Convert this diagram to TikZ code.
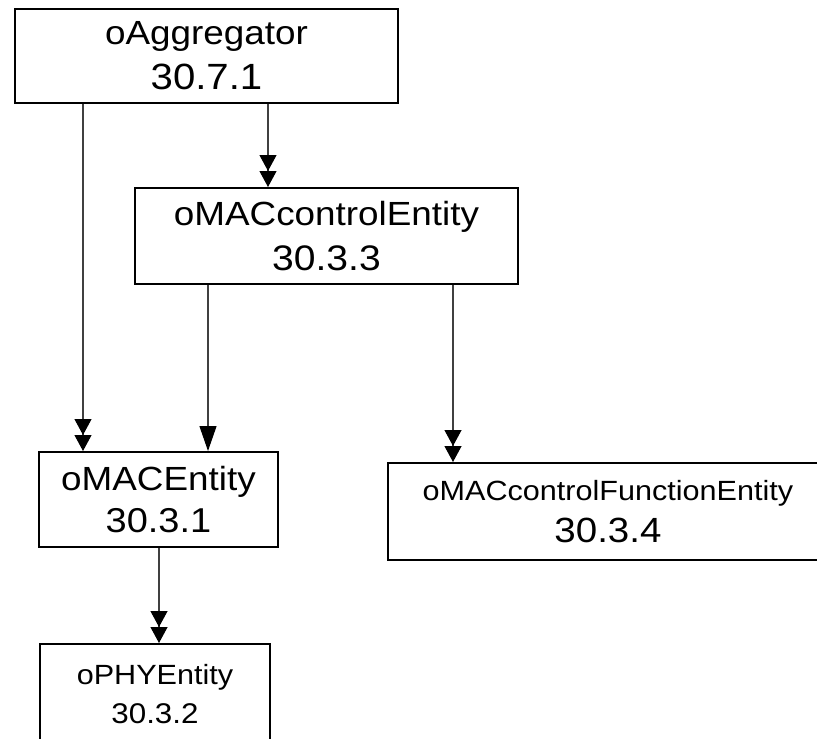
\documentclass[tikz,border=0pt]{standalone}
\usepackage{fontspec}
\setmainfont{Liberation Sans}
\newfontfamily\namefont[FakeStretch=1.1]{Liberation Sans}
\newfontfamily\numfont[FakeStretch=1.1]{Liberation Sans}
\usetikzlibrary{arrows.meta}
\begin{document}
\begin{tikzpicture}[x=1pt,y=-1pt,
    box/.style={draw,line width=2pt,inner sep=0pt,align=center,font=\fontsize{30}{45}\selectfont},
    conn/.style={line width=1.2pt,draw=black!75},
    dbl/.style={conn,-{Triangle[length=16pt,width=17pt,black]Triangle[length=16pt,width=17pt,black]}},
    sgl/.style={conn,-{Triangle[length=25pt,width=17pt,black]}}]
\clip (0,0) rectangle (817,739);
\node[box,minimum width=383pt,minimum height=94pt] (agg) at (206.5,56)
    {{\namefont\fontsize{33.5}{45}\selectfont oAggregator}\\{\numfont\fontsize{36.5}{45}\selectfont 30.7.1}};
\node[box,minimum width=383pt,minimum height=96pt] (ctrl) at (326.5,236)
    {{\namefont\fontsize{33.5}{45}\selectfont oMACcontrolEntity}\\{\numfont\fontsize{35.5}{45}\selectfont 30.3.3}};
\node[box,minimum width=239pt,minimum height=95pt,font=\fontsize{30}{42}\selectfont] (mac) at (158.5,499.5)
    {{\namefont\fontsize{33.5}{42}\selectfont oMACEntity}\\{\numfont\fontsize{34.5}{42}\selectfont 30.3.1}};
\node[box,minimum width=440pt,minimum height=97pt,font=\fontsize{30}{42}\selectfont] (func) at (608,511.5)
    {{\namefont\fontsize{27.8}{42}\selectfont oMACcontrolFunctionEntity}\\{\numfont\fontsize{35}{42}\selectfont 30.3.4}};
\node[box,minimum width=230pt,minimum height=100pt,font=\fontsize{28}{39}\selectfont] (phy) at (155,694)
    {{\namefont\fontsize{27.8}{39}\selectfont oPHYEntity}\\{\numfont\fontsize{28.5}{39}\selectfont 30.3.2}};
% connectors
\draw[dbl] (83,0 |- agg.south) -- (83,0 |- mac.north);
\draw[dbl] (268,0 |- agg.south) -- (268,0 |- ctrl.north);
\draw[sgl] (208,0 |- ctrl.south) -- (208,0 |- mac.north);
\draw[dbl] (453,0 |- ctrl.south) -- (453,0 |- func.north);
\draw[dbl] (159,0 |- mac.south) -- (159,0 |- phy.north);
\end{tikzpicture}
\end{document}
